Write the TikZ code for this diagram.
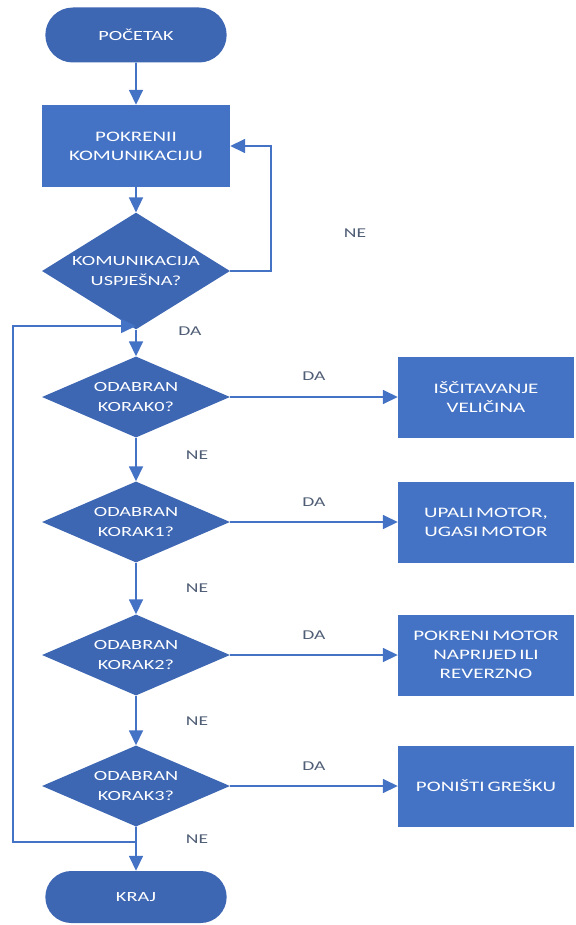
\documentclass[tikz,border=0pt]{standalone}
\usepackage{tikz}
\usepackage{xcolor}
\usepackage{fontspec}
\setmainfont{Carlito}
\newfontfamily\flowfont[FakeStretch=1.45,WordSpace=0.6]{Carlito}
\usetikzlibrary{shapes,arrows.meta}
\definecolor{boxblue}{HTML}{4472C4}
\definecolor{darkblue}{HTML}{3D66B3}
\definecolor{labelgray}{HTML}{4F5D75}

\begin{document}
\begin{tikzpicture}[x=1pt,y=-1pt]
  \useasboundingbox (0,0) rectangle (575,925);
  \tikzstyle{terminal}=[rounded rectangle,fill=darkblue,text=white,minimum width=188pt,minimum height=55pt,font=\flowfont\fontsize{14}{16}\selectfont]
  \tikzstyle{process}=[rectangle,fill=boxblue,text=white,align=center,minimum height=81pt,inner sep=0pt,font=\flowfont\fontsize{14.5}{19}\selectfont]
  \tikzstyle{decision}=[diamond,fill=darkblue,text=white,align=center,minimum width=188pt,minimum height=81pt,inner xsep=-14pt,inner ysep=-6pt,font=\flowfont\fontsize{14}{20}\selectfont]
  \tikzstyle{answer}=[text=labelgray,font=\flowfont\fontsize{13.5}{15}\selectfont]
  \tikzstyle{flow}=[draw=boxblue,line width=1.6pt,-{Triangle[length=15pt,width=14pt]}]
  \node[terminal] (start) at (136,35) {POČETAK};
  \node[process,minimum width=188pt,minimum height=82pt] (init) at (136,146) {POKRENII\\KOMUNIKACIJU};
  \node[decision] (link) at (136,271) {KOMUNIKACIJA\\USPJEŠNA?};
  \node[decision] (step0) at (136,397) {ODABRAN\\KORAK0?};
  \node[decision] (step1) at (136,522) {ODABRAN\\KORAK1?};
  \node[decision] (step2) at (136,655) {ODABRAN\\KORAK2?};
  \node[decision] (step3) at (136,786) {ODABRAN\\KORAK3?};
  \node[process,minimum width=176pt] (read) at (486,397) {IŠČITAVANJE\\VELIČINA};
  \node[process,minimum width=176pt] (motor) at (486,522) {UPALI MOTOR,\\UGASI MOTOR};
  \node[process,minimum width=176pt] (dir) at (486,655) {POKRENI MOTOR\\NAPRIJED ILI\\REVERZNO};
  \node[process,minimum width=176pt] (reset) at (486,786) {PONIŠTI GREŠKU};
  \node[terminal,minimum height=52pt] (end) at (136,897) {KRAJ};
  \coordinate (retry) at (271,271);
  \coordinate (join) at (136,326);
  \coordinate (loopin) at (136,842);
  \coordinate (backlow) at (13,842);
  \coordinate (backtop) at (13,326);
  \draw[flow] (start) -- (init);
  \draw[flow] (init) -- (link);
  \draw[flow] (link.east) -- (retry) |- (init.east);
  \draw[flow] (link) -- (step0);
  \draw[flow] (loopin) -- (backlow) -- (backtop) -- (join);
  \foreach \a/\b in {step0/step1,step1/step2,step2/step3,step3/end}
    \draw[flow] (\a) -- (\b);
  \foreach \a/\b in {step0/read,step1/motor,step2/dir,step3/reset}
    \draw[flow] (\a) -- (\b);
  \node[answer] (no0) at (355,233) {NE};
  \node[answer] (yes0) at (190,331) {DA};
  \foreach \y/\n in {376/1,502/2,635/3,766/4}
    \node[answer] (yes\n) at (314,\y) {DA};
  \foreach \y/\n in {455/1,588/2,721/3,839/4}
    \node[answer] (no\n) at (197,\y) {NE};
\end{tikzpicture}
\end{document}
